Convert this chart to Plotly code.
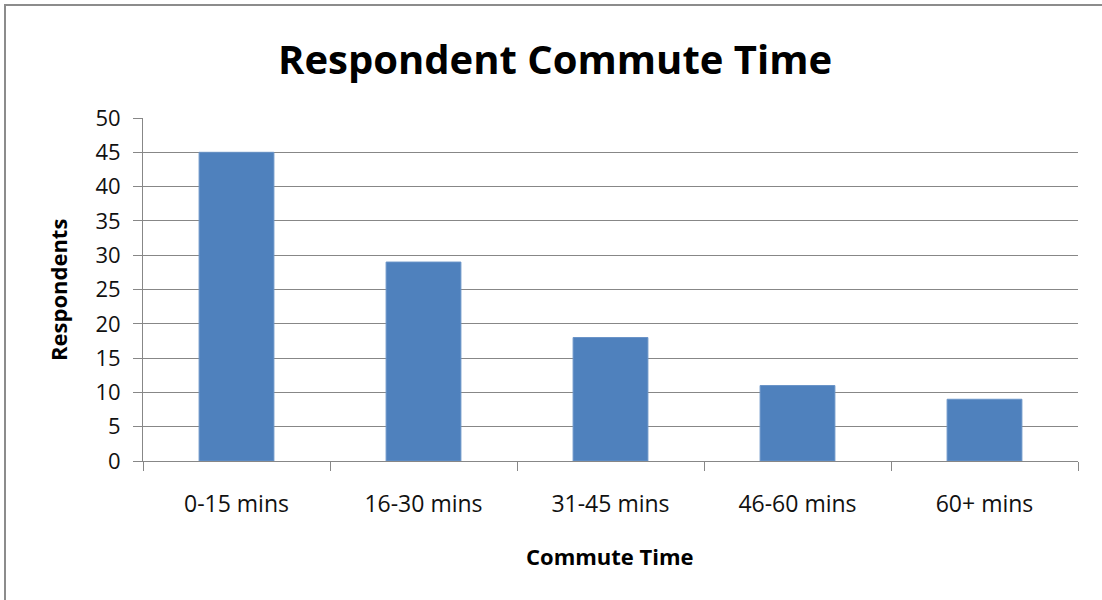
import plotly.graph_objects as go

categories = ["0-15 mins", "16-30 mins", "31-45 mins", "46-60 mins", "60+ mins"]
respondents = [45, 29, 18, 11, 9]
y_ticks = [0, 5, 10, 15, 20, 25, 30, 35, 40, 45, 50]

W, H = 1102, 600
L, R, T, B = 143, 24, 118, 139
PW, PH = W - L - R, H - T - B

def px_x(p):
    return (p - L) / PW

def px_y(p):
    return (H - B - p) / PH

FONT = "'Open Sans', Lato, sans-serif"
GRID = "#878787"

fig = go.Figure(
    go.Bar(
        x=categories,
        y=respondents,
        marker=dict(color="#4F81BD", line=dict(color="#6A94C8", width=1)),
        hoverinfo="x+y",
    )
)

fig.update_layout(
    width=W,
    height=H,
    margin=dict(l=L, r=R, t=T, b=B, pad=0),
    paper_bgcolor="white",
    plot_bgcolor="white",
    bargap=0.6,
    showlegend=False,
    font=dict(family=FONT, color="#000000"),
)

fig.update_yaxes(
    range=[0, 50],
    tickvals=y_ticks,
    showgrid=True,
    gridcolor=GRID,
    gridwidth=1,
    showline=True,
    linecolor=GRID,
    linewidth=1,
    ticks="outside",
    ticklen=9,
    tickcolor=GRID,
    tickfont=dict(size=22, family=FONT, color="#111"),
    ticklabelstandoff=8,
    zeroline=False,
    fixedrange=True,
)

fig.update_xaxes(
    showline=True,
    linecolor=GRID,
    linewidth=1,
    ticks="outside",
    tickson="boundaries",
    ticklen=9,
    tickcolor=GRID,
    tickfont=dict(size=23, family=FONT, color="#111"),
    ticklabelstandoff=22,
    showgrid=False,
    fixedrange=True,
)

# chart title and axis titles
fig.add_annotation(
    text="<b>Respondent Commute Time</b>",
    x=px_x(555), y=px_y(59), xref="paper", yref="paper",
    showarrow=False, xanchor="center", yanchor="middle",
    font=dict(size=40, family=FONT, color="#000"),
)
fig.add_annotation(
    text="<b>Respondents</b>",
    x=px_x(58), y=px_y(290), xref="paper", yref="paper",
    showarrow=False, xanchor="center", yanchor="middle", textangle=-90,
    font=dict(size=22, family=FONT, color="#000"),
)
fig.add_annotation(
    text="<b>Commute Time</b>",
    x=px_x(610), y=px_y(556), xref="paper", yref="paper",
    showarrow=False, xanchor="center", yanchor="middle",
    font=dict(size=22, family=FONT, color="#000"),
)

# chart area frame
fig.add_shape(
    type="rect", xref="paper", yref="paper",
    x0=px_x(5), x1=px_x(W + 40), y0=px_y(H + 40), y1=px_y(5),
    line=dict(color="#8C8C8C", width=2), fillcolor="rgba(0,0,0,0)",
    layer="below",
)

fig.write_html("out.html")
